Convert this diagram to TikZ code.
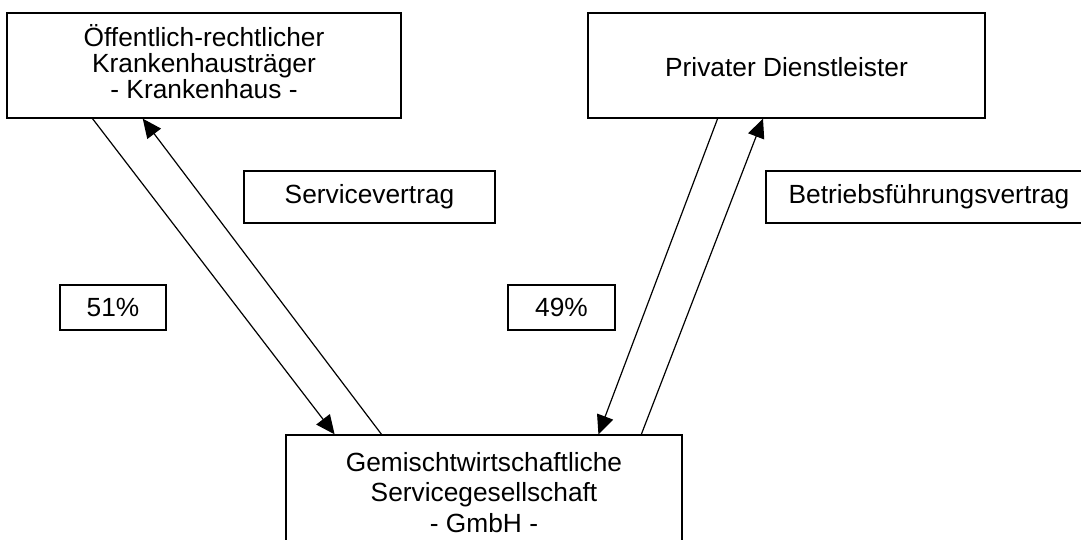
\documentclass[tikz,border=0pt]{standalone}
\usepackage{fontspec}
\setmainfont{Liberation Sans}
\usetikzlibrary{calc,arrows.meta}

\begin{document}
\begin{tikzpicture}[x=1pt,y=-1pt,
    box/.style={draw,line width=1.3pt,inner sep=0pt,align=center,
      font=\fontsize{26.3}{26.3}\selectfont},
    tag/.style={draw,line width=1.3pt,inner sep=0pt,minimum height=52pt,
      font=\fontsize{26.3}{28}\selectfont},
    link/.style={line width=1.2pt,-{Triangle[length=19pt,width=17pt]}}]
  \useasboundingbox (0,0) rectangle (1081,540);
  \node[box,minimum width=394pt,minimum height=105pt] (kh) at (204,65.5)
    {Öffentlich-rechtlicher\\Krankenhausträger\\- Krankenhaus -\rule[-8pt]{0pt}{8pt}};
  \node[box,minimum width=397pt,minimum height=105pt] (pd) at (786.5,65.5)
    {\rule{0pt}{22pt}Privater Dienstleister};
  \node[box,minimum width=396pt,minimum height=115pt,
    font=\fontsize{26.3}{30.5}\selectfont] (gmbh) at (484,492.5)
    {Gemischtwirtschaftliche\\Servicegesellschaft\\- GmbH -};
  \node[tag,minimum width=251pt] (sv) at (369.5,197) {Servicevertrag};
  \node[tag,minimum width=326pt] (bfv) at (929,197) {Betriebsführungsvertrag};
  \node[tag,minimum width=106pt,minimum height=45pt] (p51) at (113,307.5) {51\%};
  \node[tag,minimum width=107pt,minimum height=45pt] (p49) at (561.5,307.5) {49\%};
  % Beteiligungen und Vertraege
  \draw[link] ($(kh.south west)!0.218!(kh.south east)$)
    -- ($(gmbh.north west)!0.124!(gmbh.north east)$);
  \draw[link] ($(gmbh.north west)!0.242!(gmbh.north east)$)
    -- ($(kh.south west)!0.345!(kh.south east)$);
  \draw[link] ($(pd.south west)!0.327!(pd.south east)$)
    -- ($(gmbh.north west)!0.788!(gmbh.north east)$);
  \draw[link] ($(gmbh.north west)!0.896!(gmbh.north east)$)
    -- ($(pd.south west)!0.441!(pd.south east)$);
\end{tikzpicture}
\end{document}
